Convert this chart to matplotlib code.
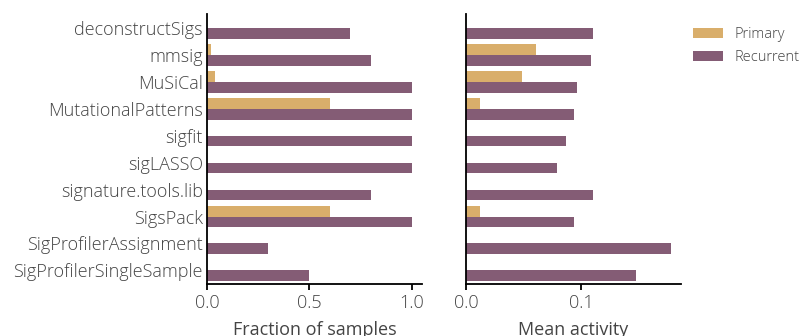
import numpy as np
import matplotlib
matplotlib.use("Agg")
from matplotlib import pyplot as plt

plt.rcParams['font.family'] = ['Open Sans', 'DejaVu Sans']
plt.rcParams['font.weight'] = 300

tools = ["deconstructSigs", "mmsig", "MuSiCal", "MutationalPatterns", "sigfit",
         "sigLASSO", "signature.tools.lib", "SigsPack", "SigProfilerAssignment",
         "SigProfilerSingleSample"]

# fraction of samples in which the signature was found
frac_primary = [0.0, 0.02, 0.04, 0.6, 0.0, 0.0, 0.0, 0.6, 0.0, 0.0]
frac_recurrent = [0.7, 0.8, 1.0, 1.0, 1.0, 1.0, 0.8, 1.0, 0.3, 0.5]

# mean signature activity
act_primary = [0.0, 0.061, 0.0487, 0.0122, 0.0, 0.0, 0.0, 0.0122, 0.0, 0.0]
act_recurrent = [0.110, 0.1087, 0.0965, 0.0939, 0.087, 0.079, 0.110, 0.0939, 0.1774, 0.147]

col_primary = "#d9ae6b"
col_recurrent = "#845c75"
txt_col = "#444444"

fig = plt.figure(figsize=(8.02, 3.36), dpi=100)
ax1 = fig.add_axes([0.258, 0.155, 0.268, 0.802])
ax2 = fig.add_axes([0.581, 0.155, 0.268, 0.802])

y = np.arange(len(tools))
h = 0.4

for ax, p, r, xl in [(ax1, frac_primary, frac_recurrent, "Fraction of samples"),
                     (ax2, act_primary, act_recurrent, "Mean activity")]:
    ax.barh(y - h/2, p, height=h, color=col_primary, label="Primary")
    ax.barh(y + h/2, r, height=h, color=col_recurrent, label="Recurrent")
    ax.set_ylim(len(tools) - 0.5, -0.5)
    ax.set_xlim(0, max(max(p), max(r)) * 1.05)
    ax.spines['top'].set_visible(False)
    ax.spines['right'].set_visible(False)
    ax.spines['left'].set_linewidth(1.3)
    ax.spines['bottom'].set_linewidth(1.3)
    ax.tick_params(axis='y', length=0, pad=3, labelsize=13, labelcolor=txt_col)
    ax.tick_params(axis='x', length=4, width=1.3, labelsize=13, labelcolor=txt_col)
    ax.set_xlabel(xl, fontsize=13, color=txt_col, labelpad=6)

ax1.set_yticks(y)
ax1.set_yticklabels(tools)
ax1.set_xticks([0, 0.5, 1.0])
ax1.set_xticklabels(["0.0", "0.5", "1.0"])
ax2.set_yticks(y)
ax2.set_yticklabels([])
ax2.set_xticks([0, 0.1])
ax2.set_xticklabels(["0.0", "0.1"])

leg = ax2.legend(loc="upper left", bbox_to_anchor=(1.0, 0.995), frameon=False,
                 fontsize=10.5, handlelength=2.1, handleheight=0.7,
                 labelspacing=0.5, handletextpad=0.8, borderaxespad=0.4)
for t in leg.get_texts():
    t.set_color(txt_col)

plt.savefig("out.png", dpi=100)
